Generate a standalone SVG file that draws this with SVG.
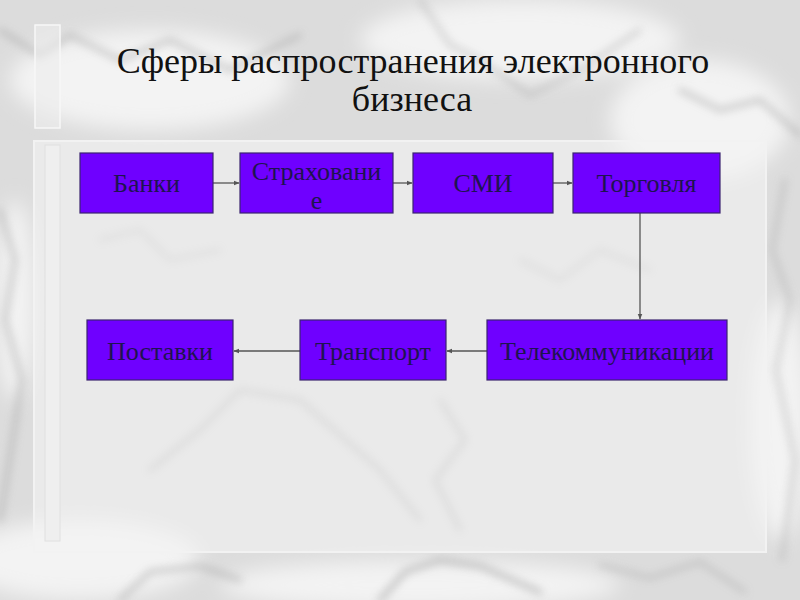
<svg xmlns="http://www.w3.org/2000/svg" width="800" height="600" viewBox="0 0 800 600">
<defs>
<style>
.box{fill:#6f00ff;stroke:#3b2470;stroke-width:1.2}
.lbl{font-family:"Liberation Serif","DejaVu Serif",serif;font-size:26px;fill:#1e1450;text-anchor:middle}
.title{font-family:"Liberation Serif","DejaVu Serif",serif;font-size:36px;fill:#111;text-anchor:middle}
.conn{stroke:#555;stroke-width:1.3;fill:none}
.vein{stroke:#a8a8a8;fill:none;stroke-linecap:round}
</style>
<marker id="ah" viewBox="0 0 10 10" refX="9" refY="5" markerWidth="6" markerHeight="6" orient="auto" markerUnits="userSpaceOnUse">
<path d="M0,1 L10,5 L0,9 Z" fill="#555"/>
</marker>
<filter id="blur8" x="-20%" y="-20%" width="140%" height="140%"><feGaussianBlur stdDeviation="10"/></filter>
<filter id="blur3" x="-20%" y="-20%" width="140%" height="140%"><feGaussianBlur stdDeviation="4"/></filter>
</defs>

<!-- marble background -->
<g id="background">
<rect x="0" y="0" width="800" height="600" fill="#dcdcdc"/>
<g filter="url(#blur8)" fill="#f3f3f3">
<ellipse cx="150" cy="80" rx="140" ry="50"/>
<ellipse cx="520" cy="40" rx="160" ry="40"/>
<ellipse cx="700" cy="120" rx="90" ry="60"/>
<ellipse cx="80" cy="560" rx="120" ry="40"/>
<ellipse cx="420" cy="585" rx="200" ry="25"/>
<ellipse cx="780" cy="420" rx="30" ry="120"/>
<ellipse cx="15" cy="300" rx="20" ry="100"/>
</g>
<g filter="url(#blur3)" opacity="0.7">
<path class="vein" stroke-width="4" d="M0,30 L40,55 L70,35 L120,60 L170,40 L230,70 L300,35"/>
<path class="vein" stroke-width="3" d="M420,0 L450,45 L480,60 L530,95 L580,70 L640,30"/>
<path class="vein" stroke-width="4" d="M680,90 L720,110 L760,100 L800,135"/>
<path class="vein" stroke-width="4" d="M0,210 L15,260 L5,320 L22,380 L8,470 L0,520"/>
<path class="vein" stroke-width="3" d="M785,180 L772,250 L790,300 L776,370 L795,460 L782,560"/>
<path class="vein" stroke-width="4" d="M120,600 L150,572 L200,566 L240,580"/>
<path class="vein" stroke-width="5" d="M380,600 L405,572 L440,560 L480,566 L540,592"/>
<path class="vein" stroke-width="3" d="M600,565 L650,578 L700,562 L745,592"/>
</g>
</g>

<!-- title area -->
<g id="title">
<rect x="35" y="25" width="25" height="103" fill="#ececec" fill-opacity="0.6" stroke="#f7f7f7" stroke-width="1.5"/>
<text class="title" x="413" y="73" font-family="Liberation Serif, DejaVu Serif, serif">Сферы распространения электронного</text>
<text class="title" x="412" y="111" font-family="Liberation Serif, DejaVu Serif, serif">бизнеса</text>
</g>

<!-- content panel -->
<g id="panel">
<rect x="34" y="141" width="732" height="411" fill="#f4f4f4" fill-opacity="0.6" stroke="#f2f2f2" stroke-width="2"/>
<g filter="url(#blur3)" opacity="0.35">
<path class="vein" stroke-width="3" d="M150,470 L200,430 L240,390 L300,400 L380,470 L420,520"/>
<path class="vein" stroke-width="3" d="M440,400 L465,440 L435,480 L460,530"/>
<path class="vein" stroke-width="2" d="M520,260 L560,280 L600,250 L650,270"/>
<path class="vein" stroke-width="2" d="M100,240 L140,230 L170,260 L220,250"/>
</g>
<rect x="45" y="145" width="15" height="396" fill="#efefef" stroke="#e0e0e0" stroke-width="1"/>
</g>

<!-- connectors -->
<g id="connectors">
<line class="conn" x1="213" y1="183" x2="239" y2="183" marker-end="url(#ah)"/>
<line class="conn" x1="393" y1="183" x2="412" y2="183" marker-end="url(#ah)"/>
<line class="conn" x1="553" y1="183" x2="572" y2="183" marker-end="url(#ah)"/>
<line class="conn" x1="640" y1="213" x2="640" y2="319" marker-end="url(#ah)"/>
<line class="conn" x1="487" y1="351" x2="447" y2="351" marker-end="url(#ah)"/>
<line class="conn" x1="300" y1="351" x2="234" y2="351" marker-end="url(#ah)"/>
</g>

<!-- nodes -->
<g id="node-banki">
<rect class="box" x="80" y="153" width="133" height="60"/>
<text class="lbl" x="146.5" y="192">Банки</text>
</g>
<g id="node-strakhovanie">
<rect class="box" x="240" y="153" width="153" height="60"/>
<text class="lbl" x="316.5" y="180">Страховани</text>
<text class="lbl" x="316.5" y="209">е</text>
</g>
<g id="node-smi">
<rect class="box" x="413" y="153" width="140" height="60"/>
<text class="lbl" x="483" y="192">СМИ</text>
</g>
<g id="node-torgovlya">
<rect class="box" x="573" y="153" width="147" height="60"/>
<text class="lbl" x="646.5" y="192">Торговля</text>
</g>
<g id="node-telekom">
<rect class="box" x="487" y="320" width="240" height="60"/>
<text class="lbl" x="607" y="360">Телекоммуникации</text>
</g>
<g id="node-transport">
<rect class="box" x="300" y="320" width="146" height="60"/>
<text class="lbl" x="373" y="360">Транспорт</text>
</g>
<g id="node-postavki">
<rect class="box" x="87" y="320" width="146" height="60"/>
<text class="lbl" x="160" y="360">Поставки</text>
</g>
</svg>
